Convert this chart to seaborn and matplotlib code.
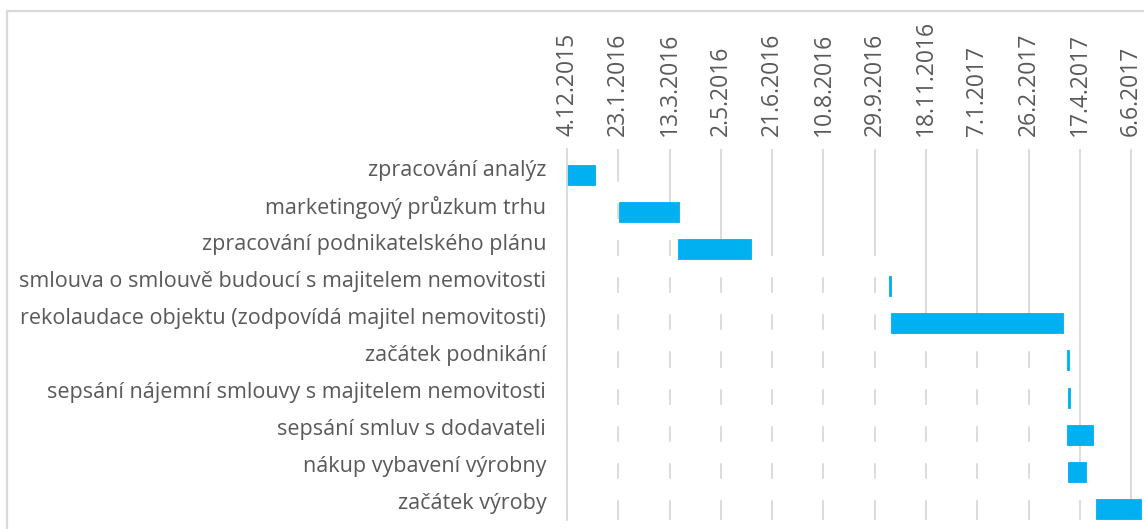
import datetime as dt

import matplotlib
matplotlib.use("Agg")
import matplotlib.dates as mdates
import matplotlib.pyplot as plt
from matplotlib.lines import Line2D
import numpy as np
import seaborn as sns

# Project schedule (Gantt)
tasks = [
    "zpracování analýz",
    "marketingový průzkum trhu",
    "zpracování podnikatelského plánu",
    "smlouva o smlouvě budoucí s majitelem nemovitosti",
    "rekolaudace objektu (zodpovídá majitel nemovitosti)",
    "začátek podnikání",
    "sepsání nájemní smlouvy s majitelem nemovitosti",
    "sepsání smluv s dodavateli",
    "nákup vybavení výrobny",
    "začátek výroby",
]
task_start = [
    "4.12.2015", "24.1.2016", "21.3.2016", "13.10.2016", "15.10.2016",
    "4.4.2017", "5.4.2017", "4.4.2017", "5.4.2017", "3.5.2017",
]
task_end = [
    "31.12.2015", "22.3.2016", "31.5.2016", "15.10.2016", "1.4.2017",
    "6.4.2017", "7.4.2017", "30.4.2017", "23.4.2017", "16.6.2017",
]
tick_dates = [
    "4.12.2015", "23.1.2016", "13.3.2016", "2.5.2016", "21.6.2016",
    "10.8.2016", "29.9.2016", "18.11.2016", "7.1.2017", "26.2.2017",
    "17.4.2017", "6.6.2017",
]
axis_range = ["4.12.2015", "18.6.2017"]


def to_num(text):
    d, m, y = (int(p) for p in text.split("."))
    return mdates.date2num(dt.date(y, m, d))


start = np.array([to_num(s) for s in task_start])
end = np.array([to_num(s) for s in task_end])
ticks = [to_num(s) for s in tick_dates]
x_min, x_max = (to_num(s) for s in axis_range)

sns.set_theme(style="white")
plt.rcParams["font.family"] = ["Open Sans", "DejaVu Sans"]

TEXT = "#595959"
GRID = "#d9d9d9"
BLUE = "#00b0f0"

fig = plt.figure(figsize=(11.44, 5.29), dpi=100)
W, H = 1144, 529
ax = fig.add_axes([567 / W, 1 - 520 / H, (1143.5 - 567) / W, (520 - 149) / H])

pos = np.arange(len(tasks))
bar_h = 0.54

# invisible lead-in series (white) sits in the upper half of each row
ax.barh(pos - 0.34, start - x_min, left=x_min, height=bar_h,
        color="white", zorder=1.5)
# task durations
ax.barh(pos + 0.2, end - start, left=start, height=bar_h,
        color=BLUE, edgecolor=BLUE, linewidth=0.6, zorder=2)

ax.set_xlim(x_min, x_max)
ax.set_ylim(len(tasks) - 0.5, -0.5)

ax.xaxis.tick_top()
ax.set_xticks(ticks)
ax.set_xticklabels(tick_dates, rotation=90, color=TEXT, fontsize=16.5)
ax.set_yticks(pos)
ax.set_yticklabels(tasks, color=TEXT, fontsize=15.5)
ax.tick_params(axis="x", length=0, pad=9)
ax.tick_params(axis="y", length=0, pad=15)

ax.grid(axis="x", color=GRID, linewidth=1.3, zorder=0.5)
ax.grid(axis="y", visible=False)
ax.set_axisbelow(True)

for side in ("top", "right", "bottom"):
    ax.spines[side].set_visible(False)
ax.spines["left"].set_color(GRID)
ax.spines["left"].set_linewidth(1.3)

# chart frame
fig.add_artist(Line2D([7 / W, 7 / W], [0, 1 - 11 / H], transform=fig.transFigure,
                      color=GRID, linewidth=1.6))
fig.add_artist(Line2D([7 / W, 1], [1 - 11 / H, 1 - 11 / H], transform=fig.transFigure,
                      color=GRID, linewidth=1.6))

fig.savefig("out.png", dpi=100, facecolor="white")
